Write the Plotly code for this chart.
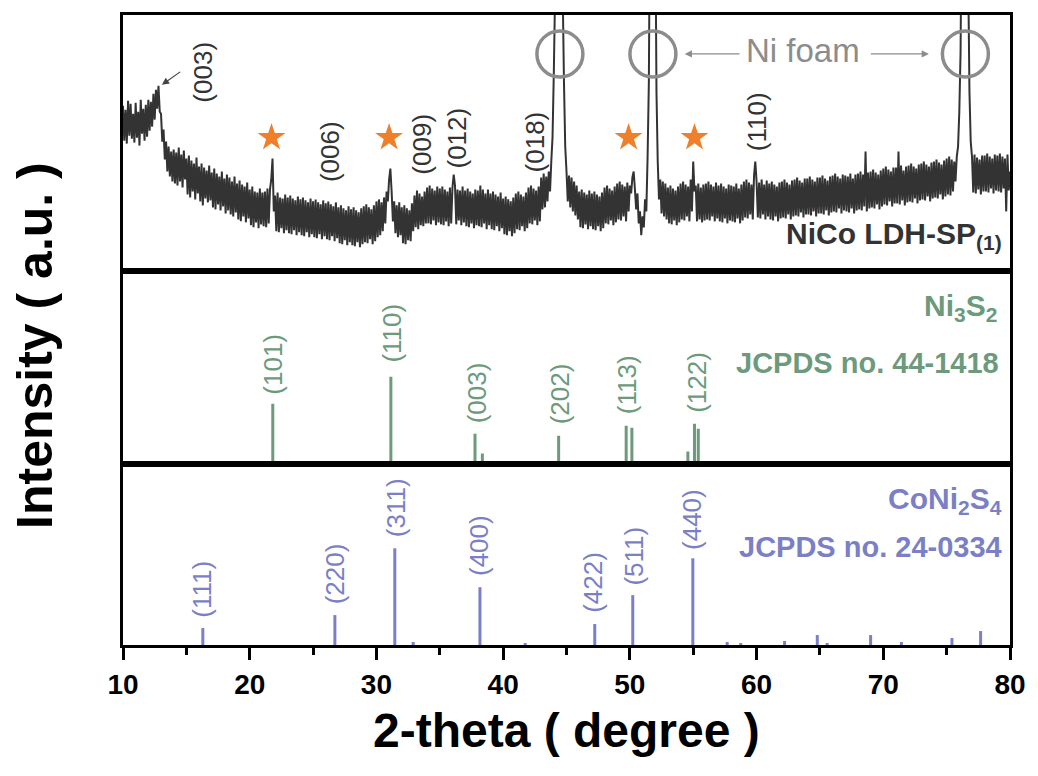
import plotly.graph_objects as go
from plotly.subplots import make_subplots

# ---------------- DATA ----------------
# NiCo LDH-SP(1) pattern, intensity (a.u.) read every 0.1 degree, one row per degree
ldh_10_20 = [166,131,162,128,171,136,168,133,158,129,
             169,134,160,126,172,138,163,131,167,135,
             172,141,170,145,178,152,182,163,186,160,
             158,130,142,112,130,100,125,95,120,90,
             122,88,119,86,124,90,117,84,121,92,
             113,77,116,74,111,80,108,72,114,78,
             105,70,108,66,104,73,101,69,106,71,
             99,64,103,62,98,67,95,61,100,65,
             93,58,97,61,94,57,90,55,95,59,
             88,52,91,50,87,55,85,49,89,53]
ldh_20_30 = [82,46,85,44,80,49,79,43,83,47,
             79,45,80,44,83,48,82,92,113,60,
             76,40,79,39,74,43,73,38,77,41,
             74,38,76,37,73,41,71,36,75,39,
             72,36,74,35,71,39,69,34,73,37,
             70,34,72,33,69,37,67,32,71,35,
             68,32,70,31,67,35,65,30,69,33,
             64,28,66,27,63,31,61,26,65,29,
             62,26,64,25,61,29,59,24,63,27,
             65,29,67,28,64,32,62,27,66,30]
ldh_30_40 = [70,34,72,36,69,40,74,48,80,70,
             92,103,80,50,70,38,66,34,69,36,
             64,28,66,27,63,31,61,30,68,40,
             76,44,81,42,78,46,75,45,80,48,
             84,48,86,47,83,51,81,46,85,49,
             83,47,85,46,82,50,80,45,84,48,
             84,97,86,47,82,51,81,46,85,49,
             81,45,83,44,80,48,78,43,82,46,
             81,45,86,44,82,48,78,42,82,46,
             78,42,80,41,77,45,75,40,79,43]
ldh_40_50 = [73,37,75,36,72,40,70,35,74,38,
             78,42,80,41,77,45,75,40,79,43,
             84,48,86,47,83,51,81,46,85,50,
             94,62,98,64,95,70,100,80,110,135,
             200,280,900,1500,1800,1800,1000,280,190,125,
             100,70,96,64,94,60,90,56,86,52,
             80,44,82,43,79,47,77,42,81,45,
             78,42,80,41,77,45,75,40,79,43,
             84,48,86,47,83,51,81,46,85,49,
             88,52,90,51,87,55,85,50,89,60]
ldh_50_60 = [86,78,94,100,82,62,78,48,60,36,
             55,44,72,60,115,190,400,1600,1800,1200,
             380,180,110,72,92,58,90,55,88,52,
             84,48,86,47,83,51,81,46,85,49,
             88,52,90,51,87,55,85,50,92,60,
             110,80,86,50,88,52,84,49,87,51,
             88,52,90,51,87,55,85,50,89,53,
             86,50,88,49,85,53,83,48,87,51,
             86,50,85,49,88,53,83,48,87,51,
             90,54,92,53,89,57,87,52,96,110]
ldh_60_70 = [90,54,89,53,92,57,87,52,91,55,
             88,52,90,51,87,55,85,50,89,53,
             90,54,92,53,89,57,87,52,91,55,
             92,56,94,55,91,59,89,54,93,57,
             93,57,95,56,92,60,90,55,94,58,
             94,58,96,57,93,61,91,56,95,59,
             96,60,98,59,95,63,93,58,97,61,
             96,60,95,59,98,63,93,58,97,61,
             98,62,100,61,97,65,120,60,99,63,
             100,64,102,63,99,67,97,62,101,65]
ldh_70_80 = [103,67,105,66,102,70,100,65,104,68,
             104,68,120,67,106,71,101,66,105,69,
             106,70,108,69,105,73,103,68,107,71,
             108,72,110,71,107,75,105,70,109,73,
             110,74,112,73,109,77,107,72,111,75,
             113,77,115,76,112,80,110,90,115,125,
             160,220,400,1400,1800,1500,700,300,180,130,
             115,79,117,78,114,82,112,77,116,80,
             116,80,118,79,115,83,113,78,117,81,
             116,80,118,79,115,83,113,60,117,81]
ldh_80 = [100]
ldh_segment_starts = [10, 20, 30, 40, 50, 60, 70]

# LDH peak labels
ldh_labels = ["(003)", "(006)", "(009)", "(012)", "(018)", "(110)"]
ldh_label_x = [16.3, 26.3, 33.6, 36.35, 42.5, 60.0]
ldh_label_y = [200, 120, 127, 134, 130, 150]
star_x = [21.72, 31.0, 49.9, 55.1]
star_y = [134, 134, 134, 134]
ni_foam_x = [44.48, 51.82, 76.48]
ni_foam_y = [218, 218, 218]

# Ni3S2, JCPDS 44-1418
ni3s2_pos = [21.82, 31.14, 37.78, 38.36, 44.38, 49.71, 50.16, 54.58, 55.10, 55.40]
ni3s2_int = [60, 87, 30, 10, 28, 38, 36, 12, 40, 35]
ni3s2_labels = ["(101)", "(110)", "(003)", "(202)", "(113)", "(122)"]
ni3s2_label_x = [21.82, 31.2, 37.9, 44.45, 49.8, 55.3]
ni3s2_label_y = [100, 131, 71, 70, 79, 81]

# CoNi2S4, JCPDS 24-0334
coni2s4_pos = [16.30, 26.72, 31.45, 32.90, 38.17, 41.74, 47.23, 50.23, 54.97,
               57.68, 58.75, 62.21, 64.79, 65.57, 69.00, 71.43, 75.42, 77.68]
coni2s4_int = [17, 30, 97, 3, 58, 2, 21, 50, 87, 3, 2, 4, 10, 2, 10, 3, 7, 14]
coni2s4_labels = ["(111)", "(220)", "(311)", "(400)", "(422)", "(511)", "(440)"]
coni2s4_label_x = [16.27, 26.74, 31.6, 38.15, 47.14, 50.35, 54.95]
coni2s4_label_y = [56, 71, 138, 100, 63, 89, 126]

x_ticks = [10, 20, 30, 40, 50, 60, 70, 80]

# ---------------- STYLE ----------------
FONT = "Liberation Sans, Arial, Helvetica, sans-serif"
NARROW = "Liberation Sans Narrow, Arial Narrow, Liberation Sans, Arial, sans-serif"
C_LINE = "#333333"
C_GREEN = "#6c9a7b"
C_PURPLE = "#7b7fc6"
C_ORANGE = "#f07f2b"
C_GRAY = "#8c8c8c"

# build LDH series
segments = [ldh_10_20, ldh_20_30, ldh_30_40, ldh_40_50, ldh_50_60, ldh_60_70, ldh_70_80]
theta, inten = [], []
for start, seg in zip(ldh_segment_starts, segments):
    for i, v in enumerate(seg):
        theta.append(round(start + i * 0.1, 1))
        inten.append(v)
theta.append(80.0)
inten.append(ldh_80[0])


def sticks(pos, hts):
    xs, ys = [], []
    for p, h in zip(pos, hts):
        xs += [p, p, None]
        ys += [0, h, None]
    return xs, ys


fig = make_subplots(rows=3, cols=1, shared_xaxes=True, vertical_spacing=0,
                    row_heights=[257, 193, 182])

fig.add_trace(go.Scatter(x=theta, y=inten, mode="lines",
                         line=dict(color=C_LINE, width=2.0, simplify=False),
                         hoverinfo="skip"), row=1, col=1)
fig.add_trace(go.Scatter(x=star_x, y=star_y, mode="markers",
                         marker=dict(symbol="star", size=21, color=C_ORANGE, line=dict(width=0))),
              row=1, col=1)

sx, sy = sticks(ni3s2_pos, ni3s2_int)
fig.add_trace(go.Scatter(x=sx, y=sy, mode="lines", line=dict(color=C_GREEN, width=3)), row=2, col=1)
sx, sy = sticks(coni2s4_pos, coni2s4_int)
fig.add_trace(go.Scatter(x=sx, y=sy, mode="lines", line=dict(color=C_PURPLE, width=3)), row=3, col=1)

annotations = []


def rot_labels(texts, xs, ys, color, xref, yref):
    for t, x, y in zip(texts, xs, ys):
        annotations.append(dict(text=t, x=x, y=y, xref=xref, yref=yref, showarrow=False,
                                textangle=-90, xanchor="center", yanchor="middle",
                                font=dict(family=FONT, size=26, color=color)))


rot_labels(ldh_labels, ldh_label_x, ldh_label_y, "#333333", "x", "y")
rot_labels(ni3s2_labels, ni3s2_label_x, ni3s2_label_y, C_GREEN, "x2", "y2")
rot_labels(coni2s4_labels, coni2s4_label_x, coni2s4_label_y, C_PURPLE, "x3", "y3")

# (003) arrow
annotations.append(dict(x=13.07, y=187, ax=14.63, ay=201, xref="x", yref="y", axref="x", ayref="y",
                        text="", showarrow=True, arrowhead=2, arrowsize=1.2, arrowwidth=1.2,
                        arrowcolor="#444444"))
# Ni foam arrows and text
annotations.append(dict(x=54.33, y=218, ax=58.77, ay=218, xref="x", yref="y", axref="x", ayref="y",
                        text="", showarrow=True, arrowhead=2, arrowsize=1.2, arrowwidth=1.2,
                        arrowcolor=C_GRAY))
annotations.append(dict(x=73.6, y=218, ax=68.9, ay=218, xref="x", yref="y", axref="x", ayref="y",
                        text="", showarrow=True, arrowhead=2, arrowsize=1.2, arrowwidth=1.2,
                        arrowcolor=C_GRAY))
annotations.append(dict(x=63.7, y=221, xref="x", yref="y", text="Ni foam", showarrow=False,
                        xanchor="center", yanchor="middle",
                        font=dict(family=FONT, size=33, color=C_GRAY)))

# sample / reference names
annotations.append(dict(x=79.5, y=36, xref="x", yref="y", xanchor="right", yanchor="middle",
                        showarrow=False, text="<b>NiCo LDH-SP<sub>(1)</sub></b>",
                        font=dict(family=FONT, size=30, color="#333333")))
annotations.append(dict(x=79.1, y=157, xref="x2", yref="y2", xanchor="right", yanchor="middle",
                        showarrow=False, text="<b>Ni<sub>3</sub>S<sub>2</sub></b>",
                        font=dict(family=FONT, size=30, color=C_GREEN)))
annotations.append(dict(x=79.3, y=101, xref="x2", yref="y2", xanchor="right", yanchor="middle",
                        showarrow=False, text="<b>JCPDS no. 44-1418</b>",
                        font=dict(family=FONT, size=29, color=C_GREEN)))
annotations.append(dict(x=79.5, y=145, xref="x3", yref="y3", xanchor="right", yanchor="middle",
                        showarrow=False, text="<b>CoNi<sub>2</sub>S<sub>4</sub></b>",
                        font=dict(family=FONT, size=30, color=C_PURPLE)))
annotations.append(dict(x=79.5, y=98, xref="x3", yref="y3", xanchor="right", yanchor="middle",
                        showarrow=False, text="<b>JCPDS no. 24-0334</b>",
                        font=dict(family=FONT, size=29, color=C_PURPLE)))

# axis titles
annotations.append(dict(x=-0.099, y=0.475, xref="paper", yref="paper", textangle=-90,
                        xanchor="center", yanchor="middle", showarrow=False,
                        text="<b>Intensity ( a.u. )</b>",
                        font=dict(family=FONT, size=50, color="black")))
annotations.append(dict(x=0.5, y=-0.135, xref="paper", yref="paper",
                        xanchor="center", yanchor="middle", showarrow=False,
                        text="<b>2-theta ( degree )</b>",
                        font=dict(family=FONT, size=48, color="black")))

shapes = []
for cx, cy in zip(ni_foam_x, ni_foam_y):
    shapes.append(dict(type="circle", xref="x", yref="y", xsizemode="pixel", ysizemode="pixel",
                       xanchor=cx, yanchor=cy, x0=-23, x1=23, y0=-23, y1=23,
                       line=dict(color=C_GRAY, width=3.5)))

fig.update_layout(width=1038, height=776, margin=dict(l=123, r=19, t=13, b=131),
                  paper_bgcolor="white", plot_bgcolor="white", showlegend=False,
                  annotations=annotations, shapes=shapes)

axis_common = dict(showline=True, mirror=True, linewidth=3, linecolor="black",
                   showgrid=False, zeroline=False)
for r in (1, 2, 3):
    fig.update_xaxes(range=[10, 80], row=r, col=1, **axis_common)
fig.update_xaxes(row=1, col=1, ticks="", showticklabels=False)
fig.update_xaxes(row=2, col=1, ticks="", showticklabels=False)
fig.update_xaxes(row=3, col=1, ticks="outside", ticklen=12, tickwidth=3, tickcolor="black",
                 tickvals=x_ticks, ticktext=[str(t) for t in x_ticks], showticklabels=True,
                 tickfont=dict(family=NARROW, size=28, color="black", weight="bold"),
                 minor=dict(dtick=5, tick0=0, ticks="outside", ticklen=7, tickwidth=3,
                            tickcolor="black"))
fig.update_yaxes(row=1, col=1, range=[0, 257], showticklabels=False, ticks="", **axis_common)
fig.update_yaxes(row=2, col=1, range=[0, 193], showticklabels=False, ticks="", **axis_common)
fig.update_yaxes(row=3, col=1, range=[0, 182], showticklabels=False, ticks="", **axis_common)

fig.write_html("out.html")
